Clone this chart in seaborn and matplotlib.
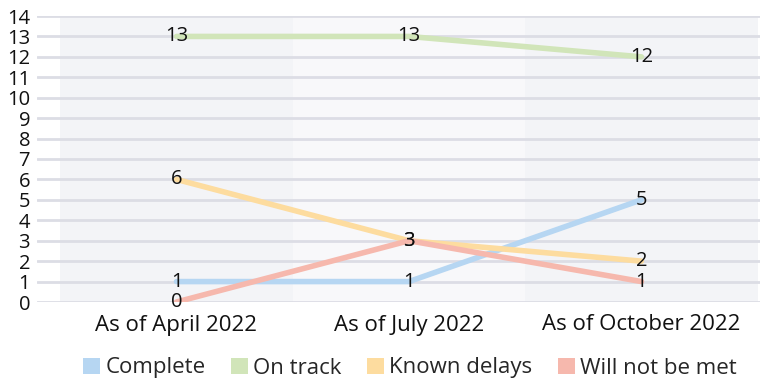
import matplotlib
matplotlib.use("Agg")
import matplotlib.pyplot as plt
from matplotlib.patches import Patch
import seaborn as sns
import pandas as pd

periods = ["As of April 2022", "As of July 2022", "As of October 2022"]
series_names = ["Complete", "On track", "Known delays", "Will not be met"]
complete = [1, 1, 5]
on_track = [13, 13, 12]
known_delays = [6, 3, 2]
will_not_be_met = [0, 3, 1]
y_ticks = list(range(0, 15))

colors = {
    "Complete": "#b6d6f2",
    "On track": "#d1e5b9",
    "Known delays": "#fddc9f",
    "Will not be met": "#f6b8ad",
}

rows = []
for name, vals in zip(series_names, [complete, on_track, known_delays, will_not_be_met]):
    for p, v in zip(periods, vals):
        rows.append({"period": p, "status": name, "count": v})
df = pd.DataFrame(rows)

sns.set_theme(style="white")
plt.rcParams["font.family"] = ["Open Sans", "DejaVu Sans"]

fig = plt.figure(figsize=(7.74, 3.82), dpi=100)
ax = fig.add_axes([37 / 774, 1 - 302 / 382, (760 - 37) / 774, (302 - 16) / 382])

# alternating column bands behind the lines
band_cols = ["#f3f4f7", "#f8f8fa", "#f3f4f7"]
for i, c in enumerate(band_cols):
    ax.axvspan(i - 0.5, i + 0.5, color=c, zorder=0, lw=0)

for t in y_ticks:
    ax.axhline(t, color="#dcdde5", lw=2, zorder=1)

sns.lineplot(data=df, x="period", y="count", hue="status", hue_order=series_names,
             palette=colors, lw=4, sort=False, legend=False, ax=ax, zorder=3)

for name, vals in zip(series_names, [complete, on_track, known_delays, will_not_be_met]):
    for i, v in enumerate(vals):
        ax.text(i, v, str(v), ha="center", va="center", fontsize=14.5, color="#111111", zorder=4)

ax.set_xlim(-0.6, 2.51)
ax.set_ylim(0, 14)
ax.set_yticks(y_ticks)
ax.set_yticklabels([str(t) for t in y_ticks], fontsize=14.5)
ax.set_xticks(range(len(periods)))
ax.set_xticklabels(periods, fontsize=16)
ax.tick_params(axis="both", length=0, colors="#111111")
ax.tick_params(axis="y", pad=5)
ax.tick_params(axis="x", pad=9)
ax.set_xlabel("")
ax.set_ylabel("")
for s in ax.spines.values():
    s.set_visible(False)

handles = [Patch(facecolor=colors[n], edgecolor="none", label=n) for n in series_names]
fig.legend(handles=handles, loc="center", bbox_to_anchor=(410 / 774, 1 - 368 / 382), ncol=4,
           frameon=False, fontsize=16, handlelength=0.75, handleheight=0.75,
           handletextpad=0.25, columnspacing=1.15, borderpad=0)

fig.savefig("out.png", dpi=100)
